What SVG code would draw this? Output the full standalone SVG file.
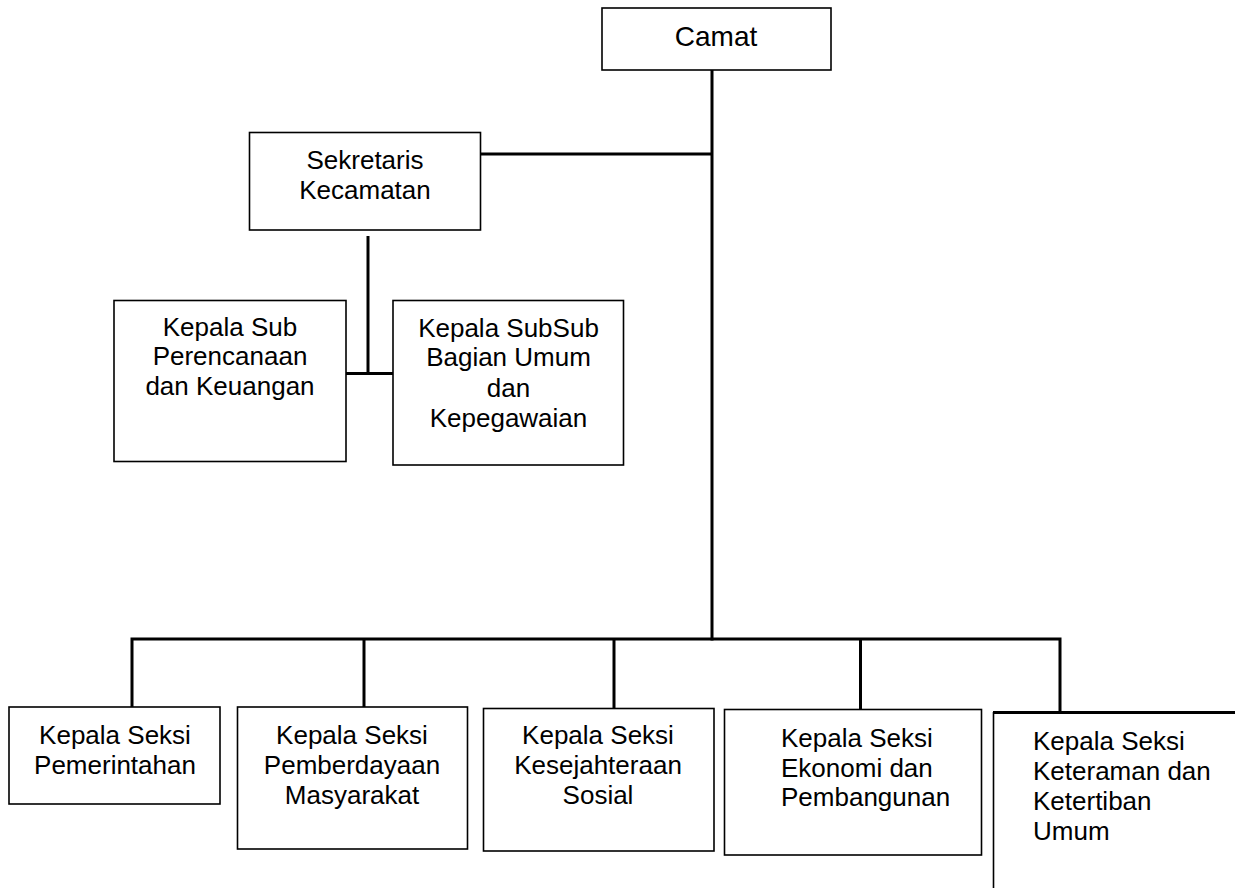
<svg xmlns="http://www.w3.org/2000/svg" width="1235" height="891" viewBox="0 0 1235 891">
<style>
.box{fill:#fff;stroke:#000;stroke-width:1.6}
.t{font-family:"Liberation Sans",Arial,sans-serif;font-size:26px;fill:#000;text-anchor:middle}
.tl{font-family:"Liberation Sans",Arial,sans-serif;font-size:26px;fill:#000;text-anchor:start}
.c{stroke:#000;stroke-width:3;fill:none}
</style>
<rect width="1235" height="891" fill="#fff"/>
<g id="connectors">
<line class="c" x1="712" y1="70" x2="712" y2="640.5"/>
<line class="c" x1="481" y1="154" x2="712" y2="154"/>
<line class="c" x1="368" y1="236" x2="368" y2="375"/>
<line class="c" x1="346" y1="373.5" x2="393" y2="373.5"/>
<polyline class="c" points="132,707 132,639 1060,639 1060,712"/>
<line class="c" x1="364" y1="639" x2="364" y2="707"/>
<line class="c" x1="614" y1="639" x2="614" y2="708"/>
<line class="c" x1="860.5" y1="639" x2="860.5" y2="709"/>
</g>
<g id="camat">
<rect class="box" x="602" y="8" width="229" height="62"/>
<text class="t" x="716" y="46" style="font-size:28px">Camat</text>
</g>
<g id="sekretaris">
<rect class="box" x="249.5" y="132.5" width="231" height="97.5"/>
<text class="t" x="365" y="169">Sekretaris</text>
<text class="t" x="365" y="199">Kecamatan</text>
</g>
<g id="sub-perencanaan">
<rect class="box" x="114" y="300.5" width="232" height="161"/>
<text class="t" x="230" y="336">Kepala Sub</text>
<text class="t" x="230" y="365">Perencanaan</text>
<text class="t" x="230" y="395">dan Keuangan</text>
</g>
<g id="sub-umum">
<rect class="box" x="393" y="300.5" width="230.5" height="164.5"/>
<text class="t" x="508.5" y="336.5">Kepala SubSub</text>
<text class="t" x="508.5" y="366">Bagian Umum</text>
<text class="t" x="508.5" y="396.5">dan</text>
<text class="t" x="508.5" y="426.5">Kepegawaian</text>
</g>
<g id="seksi-pemerintahan">
<rect class="box" x="9" y="707" width="211" height="97"/>
<text class="t" x="115" y="744">Kepala Seksi</text>
<text class="t" x="115" y="774">Pemerintahan</text>
</g>
<g id="seksi-pemberdayaan">
<rect class="box" x="237.5" y="707" width="230" height="142"/>
<text class="t" x="352" y="744">Kepala Seksi</text>
<text class="t" x="352" y="774">Pemberdayaan</text>
<text class="t" x="352" y="804">Masyarakat</text>
</g>
<g id="seksi-kesejahteraan">
<rect class="box" x="483.5" y="708.5" width="230.5" height="142.5"/>
<text class="t" x="598" y="744">Kepala Seksi</text>
<text class="t" x="598" y="774">Kesejahteraan</text>
<text class="t" x="598" y="804">Sosial</text>
</g>
<g id="seksi-ekonomi">
<rect class="box" x="724.5" y="709.5" width="257" height="145.5"/>
<text class="tl" x="781" y="747">Kepala Seksi</text>
<text class="tl" x="781" y="777">Ekonomi dan</text>
<text class="tl" x="781" y="806">Pembangunan</text>
</g>
<g id="seksi-ketentraman">
<line class="c" x1="993" y1="712.5" x2="1235" y2="712.5"/>
<line class="box" x1="993.5" y1="712" x2="993.5" y2="888"/>
<text class="tl" x="1033" y="750">Kepala Seksi</text>
<text class="tl" x="1033" y="780">Keteraman dan</text>
<text class="tl" x="1033" y="810">Ketertiban</text>
<text class="tl" x="1033" y="840">Umum</text>
</g>
</svg>
